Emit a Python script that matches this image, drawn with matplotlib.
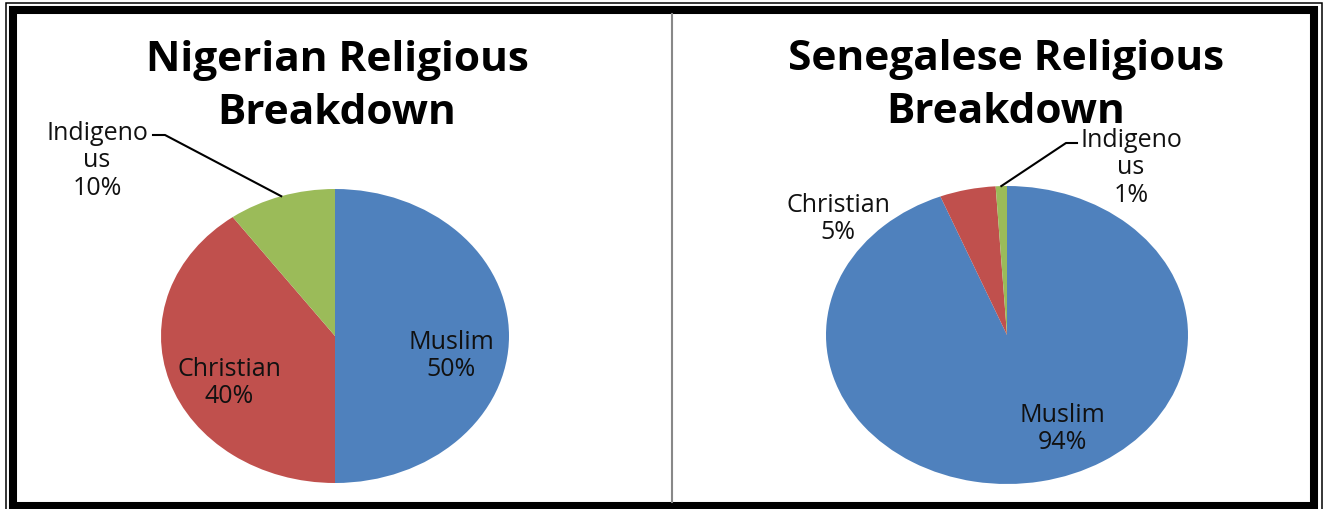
import matplotlib.pyplot as plt
from matplotlib.patches import Rectangle
from matplotlib.lines import Line2D
import numpy as np

W, H = 1328, 510

categories = ["Muslim", "Christian", "Indigenous"]
nigeria_values = [50, 40, 10]
senegal_values = [94, 5, 1]
colors = ["#4F81BD", "#C0504D", "#9BBB59"]
titles = ["Nigerian Religious\nBreakdown", "Senegalese Religious\nBreakdown"]

plt.rcParams['font.family'] = ['Open Sans', 'DejaVu Sans']

fig = plt.figure(figsize=(W / 100, H / 100), dpi=100)


def fx(px):
    return px / W


def fy(py):
    return 1 - py / H


def wrap(name):
    # the chart breaks long names after 8 letters
    return name[:8] + "\n" + name[8:] if len(name) > 9 else name


# layout of each pie in pixels
layouts = [
    dict(values=nigeria_values, title=titles[0], cx=335, cy=337, rx=174, ry=147,
         title_x=337, title_y=87,
         label_px=[(451, 356), (229, 383), (97, 161)],
         elbow=(165, 153, 136)),
    dict(values=senegal_values, title=titles[1], cx=1007, cy=336, rx=181, ry=149,
         title_x=1006, title_y=86,
         label_px=[(1062, 429), (838, 219), (1131, 168)],
         elbow=(1066, 1077, 144)),
]

for lay in layouts:
    cx, cy, rx, ry = lay["cx"], lay["cy"], lay["rx"], lay["ry"]
    ax = fig.add_axes([fx(cx - rx), fy(cy + ry), 2 * rx / W, 2 * ry / H])
    wedges, _ = ax.pie(lay["values"], colors=colors, startangle=90,
                       counterclock=False, wedgeprops=dict(linewidth=0))
    ax.set_aspect('auto')
    ax.set_xlim(-1, 1)
    ax.set_ylim(-1, 1)
    ax.axis('off')

    for (px, py), cat, val in zip(lay["label_px"], categories, lay["values"]):
        ax.text((px - cx) / rx, (cy - py) / ry, f"{wrap(cat)}\n{val}%",
                ha='center', va='center', fontsize=18, color='#111111',
                linespacing=1.15)

    # leader line for the small slice
    w = wedges[-1]
    mid = np.deg2rad((w.theta1 + w.theta2) / 2)
    ex, ey = np.cos(mid), np.sin(mid)
    x0, x1, yl = lay["elbow"]
    ax.plot([ex, (x0 - cx) / rx, (x1 - cx) / rx],
            [ey, (cy - yl) / ry, (cy - yl) / ry],
            color='black', lw=1.5, clip_on=False)

    fig.text(fx(lay["title_x"]), fy(lay["title_y"]), lay["title"],
             ha='center', va='center', fontsize=30.5, fontweight='bold',
             linespacing=1.38)

# divider between the two charts
fig.add_artist(Line2D([fx(672), fx(672)], [fy(15), fy(503)],
                      color='#888888', lw=1.5, transform=fig.transFigure))

# double black frame
fig.add_artist(Rectangle((fx(13), fy(507)), (1314 - 13) / W, (507 - 11) / H,
                         fill=False, edgecolor='black', lw=5.8,
                         transform=fig.transFigure))
fig.add_artist(Rectangle((fx(5.5), fy(516)), (1322 - 5.5) / W, (516 - 4) / H,
                         fill=False, edgecolor='black', lw=1.1,
                         transform=fig.transFigure))

fig.savefig("out.png", dpi=100, facecolor='white')
